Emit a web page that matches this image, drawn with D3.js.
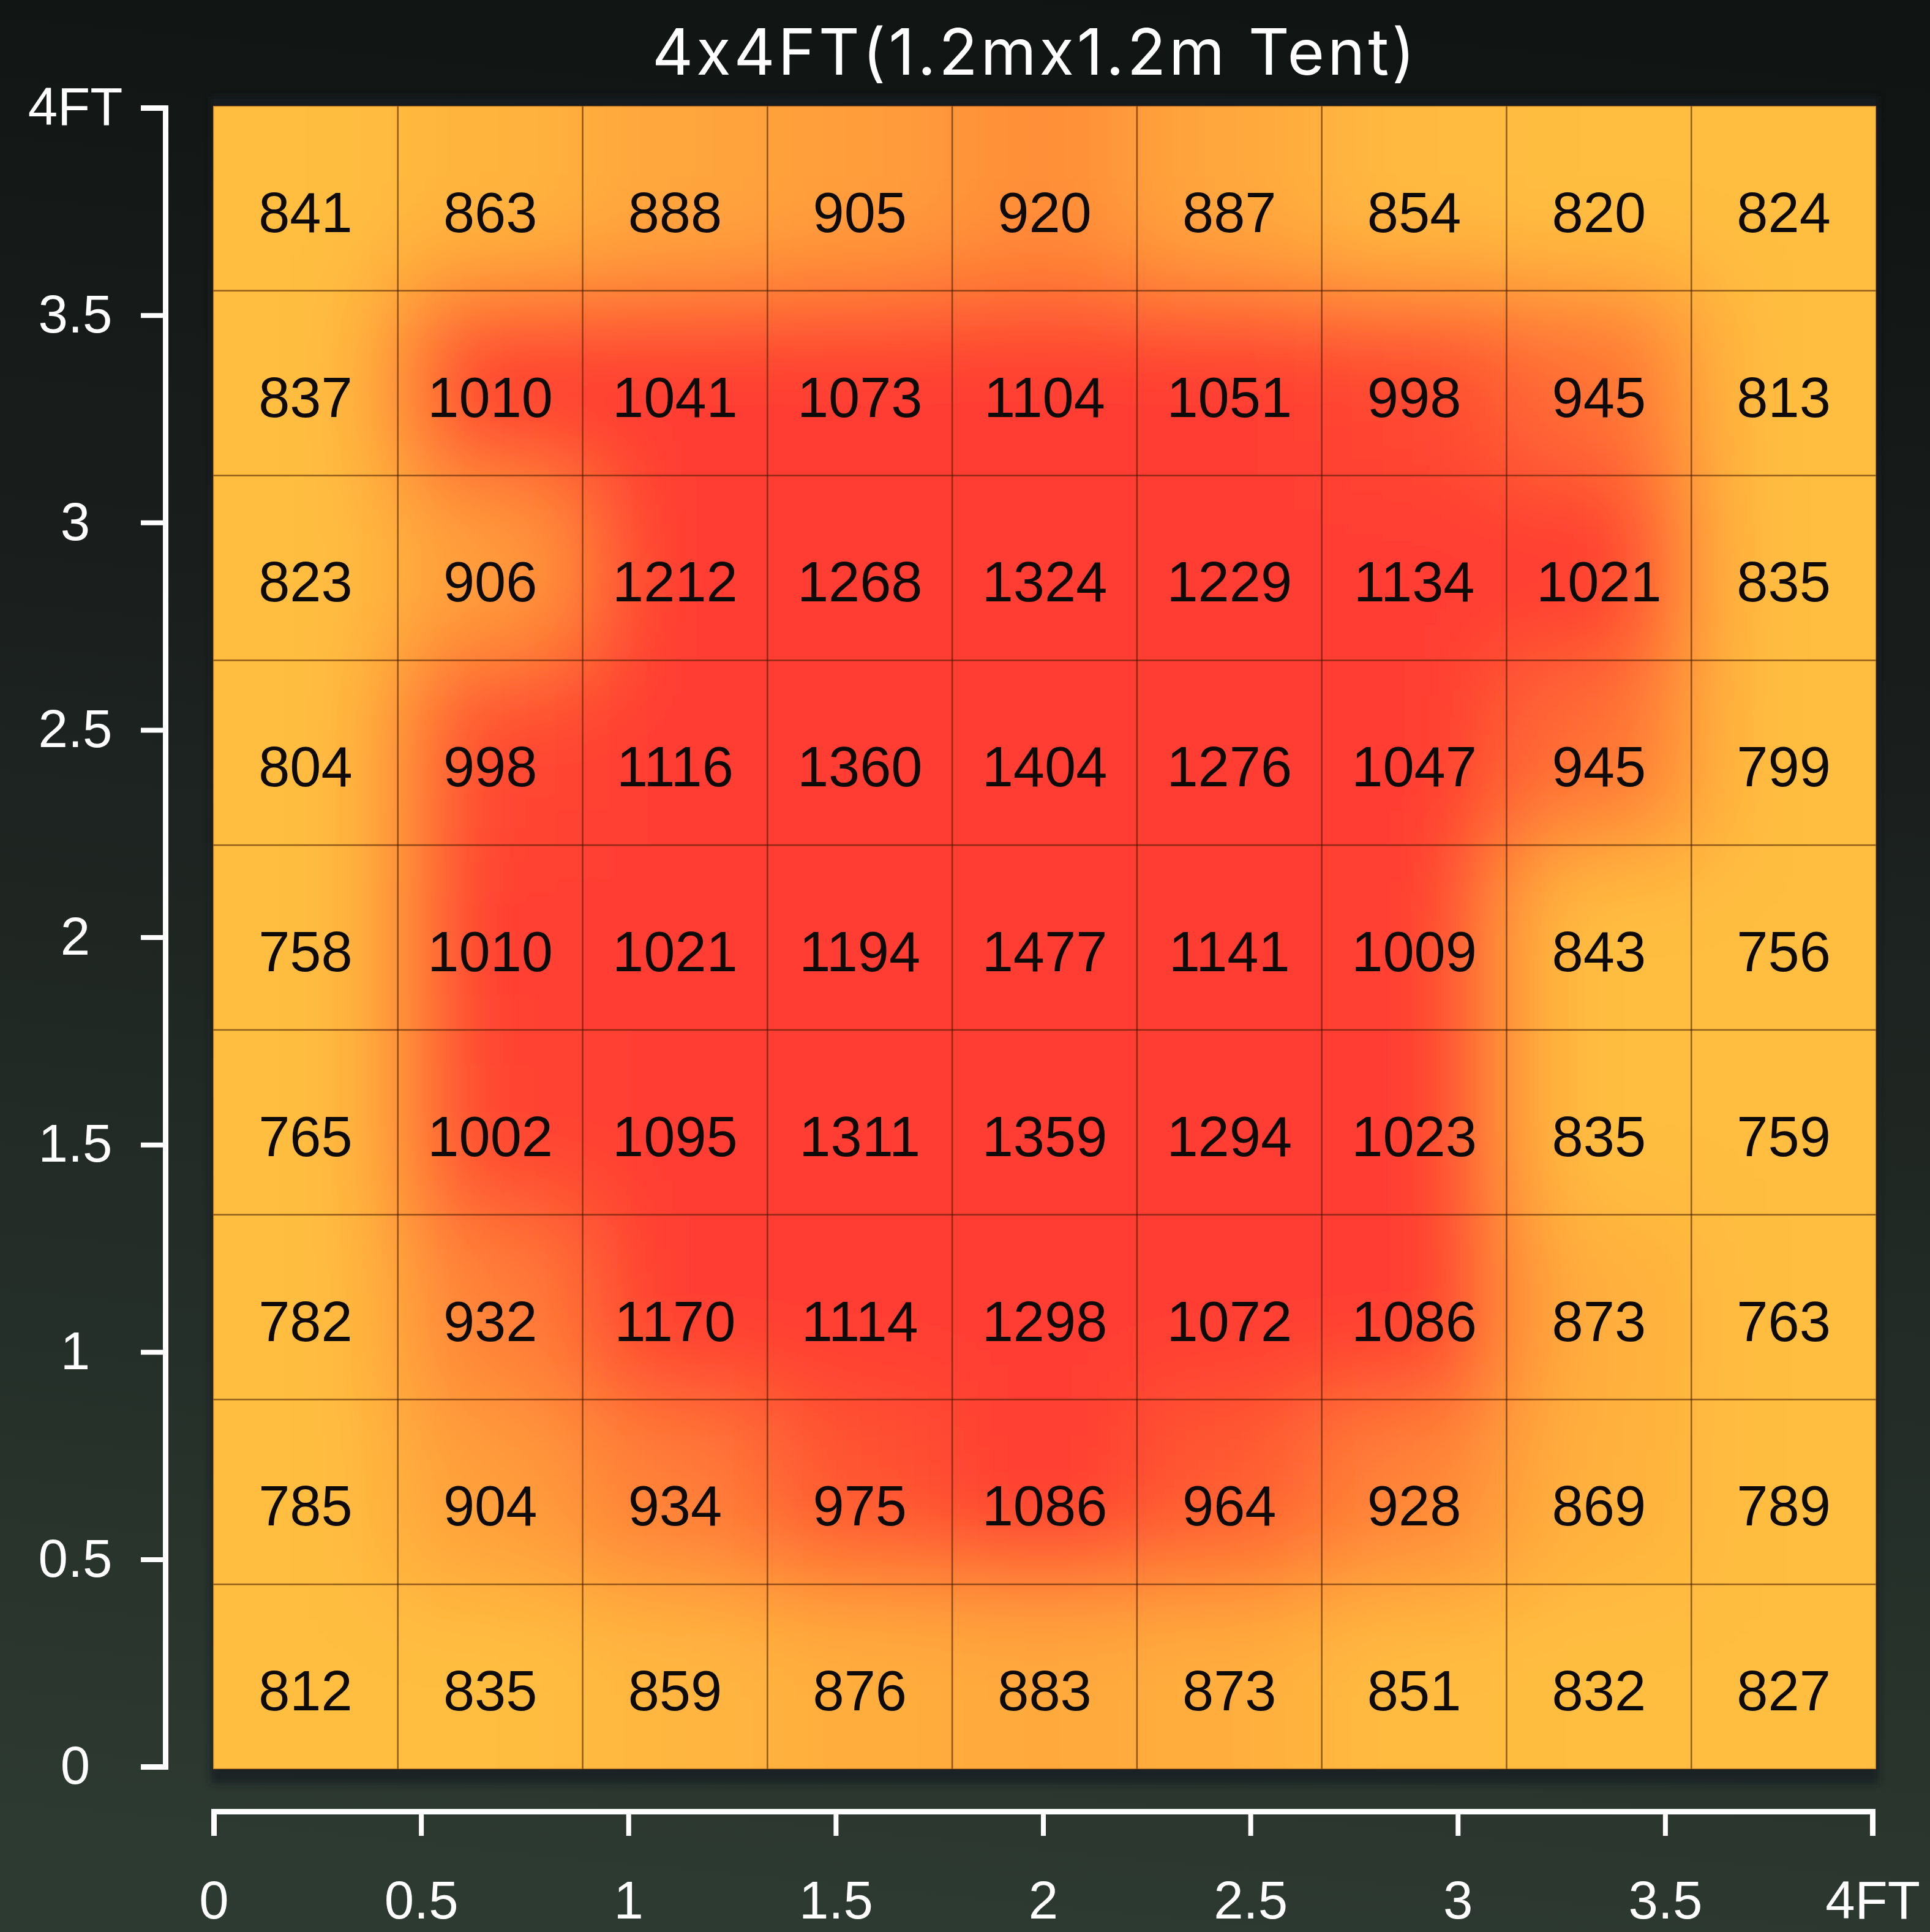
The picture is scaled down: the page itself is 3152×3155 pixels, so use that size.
<!DOCTYPE html>
<html>
<head>
<meta charset="utf-8">
<script src="https://cdn.jsdelivr.net/npm/d3@7"></script>
<style>
    body { margin: 0; background: #1a201d; }
    svg { display: block; }
</style>
</head>
<body>
<div id="chart"></div>
<script>
// PPFD readings, top row (4FT) first
var rowValues = [
    [841, 863, 888, 905, 920, 887, 854, 820, 824],
    [837, 1010, 1041, 1073, 1104, 1051, 998, 945, 813],
    [823, 906, 1212, 1268, 1324, 1229, 1134, 1021, 835],
    [804, 998, 1116, 1360, 1404, 1276, 1047, 945, 799],
    [758, 1010, 1021, 1194, 1477, 1141, 1009, 843, 756],
    [765, 1002, 1095, 1311, 1359, 1294, 1023, 835, 759],
    [782, 932, 1170, 1114, 1298, 1072, 1086, 873, 763],
    [785, 904, 934, 975, 1086, 964, 928, 869, 789],
    [812, 835, 859, 876, 883, 873, 851, 832, 827]
];
var tickValues = [0, 0.5, 1, 1.5, 2, 2.5, 3, 3.5, 4];
var tickLabels = ["0", "0.5", "1", "1.5", "2", "2.5", "3", "3.5", "4FT"];
var colorStops = [845, 910, 965, 1015];
var colorRange = ["#ffbe40", "#ff9a3a", "#ff5a33", "#ff3e31"];
var chartTitle = "4x4FT(1.2mx1.2m Tent)";

var width = 3152;
var height = 3155;
var grid = {left: 348, right: 3064, top: 173, bottom: 2889};

var cols = d3.range( rowValues[0].length );
var rows = d3.range( rowValues.length );

var xBand = d3.scaleBand().domain( cols ).range( [grid.left, grid.right] );
var yBand = d3.scaleBand().domain( rows ).range( [grid.top, grid.bottom] );

var xAxisScale = d3.scaleLinear().domain( [0, 4] ).range( [349, 3058] );
var yAxisScale = d3.scaleLinear().domain( [0, 4] ).range( [2885, 176] );

var color = d3.scaleLinear()
    .domain( colorStops )
    .range( colorRange )
    .clamp( true );

var cells = [];
rows.forEach( function (r) {
    cols.forEach( function (c) {
        cells.push( {row: r, col: c, value: rowValues[r][c]} );
    } );
} );

var svg = d3.select( "#chart" )
    .append( "svg" )
    .attr( "width", width )
    .attr( "height", height );

var defs = svg.append( "defs" );

var bg = defs.append( "linearGradient" )
    .attr( "id", "bg" )
    .attr( "x1", 0.55 ).attr( "y1", 0 )
    .attr( "x2", 0.45 ).attr( "y2", 1 );
bg.append( "stop" ).attr( "offset", 0 ).attr( "stop-color", "#101413" );
bg.append( "stop" ).attr( "offset", 0.35 ).attr( "stop-color", "#1a1f1d" );
bg.append( "stop" ).attr( "offset", 1 ).attr( "stop-color", "#2d3a31" );

defs.append( "filter" )
    .attr( "id", "smooth" )
    .attr( "filterUnits", "userSpaceOnUse" )
    .attr( "x", 0 ).attr( "y", 0 )
    .attr( "width", width ).attr( "height", height )
    .append( "feGaussianBlur" )
    .attr( "stdDeviation", 85 );

defs.append( "filter" )
    .attr( "id", "shade" )
    .attr( "x", -0.1 ).attr( "y", -0.1 )
    .attr( "width", 1.2 ).attr( "height", 1.2 )
    .append( "feGaussianBlur" )
    .attr( "stdDeviation", 6 );

defs.append( "clipPath" )
    .attr( "id", "gridClip" )
    .append( "rect" )
    .attr( "x", grid.left )
    .attr( "y", grid.top )
    .attr( "width", grid.right - grid.left )
    .attr( "height", grid.bottom - grid.top );

svg.append( "rect" )
    .attr( "width", width )
    .attr( "height", height )
    .attr( "fill", "url(#bg)" );

// dark halo round the map
svg.append( "rect" )
    .attr( "x", grid.left - 4 )
    .attr( "y", grid.top - 16 )
    .attr( "width", grid.right - grid.left + 8 )
    .attr( "height", grid.bottom - grid.top + 40 )
    .attr( "fill", "#151a24" )
    .attr( "opacity", 0.75 )
    .attr( "filter", "url(#shade)" );

// smoothed colour field; border cells are stretched outwards so the blur does not fade at the edges
var pad = 500;
var last = cols.length - 1;
var field = svg.append( "g" )
    .attr( "clip-path", "url(#gridClip)" )
    .append( "g" )
    .attr( "filter", "url(#smooth)" );

field.selectAll( "rect" )
    .data( cells )
    .enter()
    .append( "rect" )
    .attr( "x", function (d) {
        return xBand( d.col ) - (d.col === 0 ? pad : 0);
    } )
    .attr( "y", function (d) {
        return yBand( d.row ) - (d.row === 0 ? pad : 0);
    } )
    .attr( "width", function (d) {
        return xBand.bandwidth() + (d.col === 0 || d.col === last ? pad : 0) + 1;
    } )
    .attr( "height", function (d) {
        return yBand.bandwidth() + (d.row === 0 || d.row === rows.length - 1 ? pad : 0) + 1;
    } )
    .attr( "fill", function (d) {
        return color( d.value );
    } );

// cell borders
svg.append( "g" )
    .selectAll( "rect" )
    .data( cells )
    .enter()
    .append( "rect" )
    .attr( "x", function (d) { return xBand( d.col ); } )
    .attr( "y", function (d) { return yBand( d.row ); } )
    .attr( "width", xBand.bandwidth() )
    .attr( "height", yBand.bandwidth() )
    .attr( "fill", "none" )
    .attr( "stroke", "rgba(70,25,0,0.35)" )
    .attr( "stroke-width", 2.5 );

// cell values
svg.append( "g" )
    .selectAll( "text" )
    .data( cells )
    .enter()
    .append( "text" )
    .attr( "x", function (d) { return xBand( d.col ) + xBand.bandwidth() / 2; } )
    .attr( "y", function (d) { return yBand( d.row ) + yBand.bandwidth() / 2 + 55; } )
    .attr( "text-anchor", "middle" )
    .attr( "font-family", "'Liberation Sans', Arial, sans-serif" )
    .attr( "font-size", 92 )
    .attr( "fill", "#0d0a08" )
    .text( function (d) { return d.value; } );

// title
svg.append( "text" )
    .attr( "x", 1688 )
    .attr( "y", 122 )
    .attr( "text-anchor", "middle" )
    .attr( "font-family", "Inter, 'Open Sans', sans-serif" )
    .attr( "font-size", 104 )
    .attr( "textLength", 1246 )
    .attr( "lengthAdjust", "spacing" )
    .style( "font-feature-settings", "'calt' 0" )
    .attr( "fill", "#ffffff" )
    .text( chartTitle );

function styleAxis(g) {
    g.select( ".domain" )
        .attr( "stroke", "#ffffff" )
        .attr( "stroke-width", 9 )
        .attr( "fill", "none" );
    g.selectAll( ".tick line" )
        .attr( "stroke", "#ffffff" )
        .attr( "stroke-width", 8 );
    g.selectAll( ".tick text" )
        .attr( "fill", "#ffffff" )
        .attr( "font-family", "'Liberation Sans', Arial, sans-serif" )
        .attr( "font-size", 87 );
}

var labelFor = function (d) {
    return tickLabels[tickValues.indexOf( d )];
};

// y axis
svg.append( "g" )
    .attr( "transform", "translate(270,0)" )
    .call( d3.axisLeft( yAxisScale )
        .tickValues( tickValues )
        .tickFormat( labelFor )
        .tickSize( 40 ) )
    .call( styleAxis )
    .call( function (g) {
        g.selectAll( ".tick text" )
            .attr( "text-anchor", "middle" )
            .attr( "x", -147 );
    } );

// x axis
svg.append( "g" )
    .attr( "transform", "translate(0,2958)" )
    .call( d3.axisBottom( xAxisScale )
        .tickValues( tickValues )
        .tickFormat( labelFor )
        .tickSize( 40 )
        .tickPadding( 73 ) )
    .call( styleAxis );
</script>
</body>
</html>
